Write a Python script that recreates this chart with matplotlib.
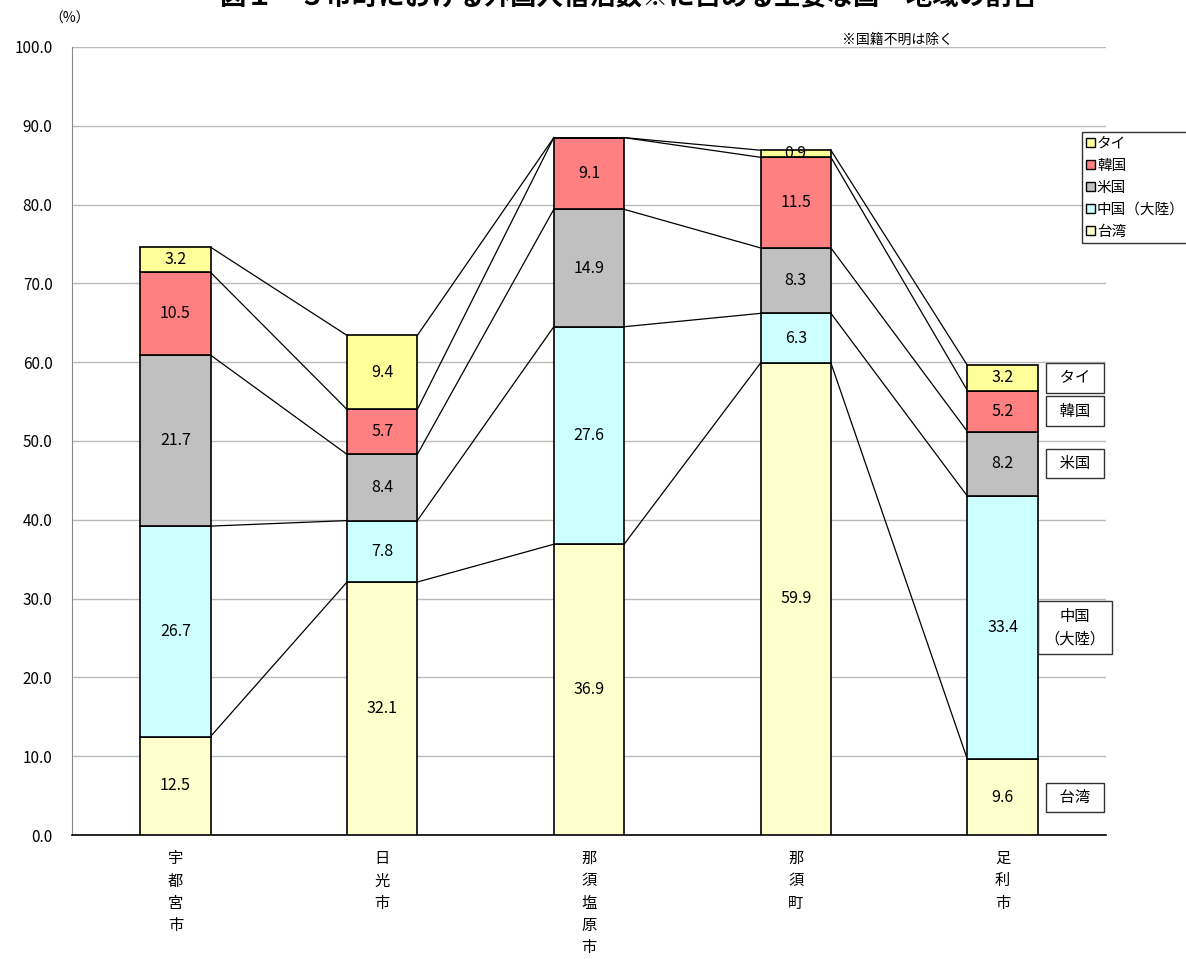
import matplotlib.pyplot as plt
import numpy as np
from matplotlib.patches import Patch

plt.rcParams['font.family'] = ['Noto Sans CJK JP', 'DejaVu Sans']

cities = ['宇都宮市', '日光市', '那須塩原市', '那須町', '足利市']
series_names = ['台湾', '中国（大陸）', '米国', '韓国', 'タイ']
taiwan = [12.5, 32.1, 36.9, 59.9, 9.6]
china = [26.7, 7.8, 27.6, 6.3, 33.4]
usa = [21.7, 8.4, 14.9, 8.3, 8.2]
korea = [10.5, 5.7, 9.1, 11.5, 5.2]
thai = [3.2, 9.4, 0.0, 0.9, 3.2]
colors = ['#FFFFCC', '#CCFFFF', '#C0C0C0', '#FF8080', '#FFFF99']
side_labels = ['\u2002台湾\u2002', '中国\n（大陸）', '\u2002米国\u2002', '\u2002韓国\u2002', '\u2002タイ\u2002']

values = np.array([taiwan, china, usa, korea, thai])
x = np.arange(len(cities))
width = 0.34

fig = plt.figure(figsize=(11.86, 9.59), dpi=100)
ax = fig.add_axes([0.0607, 0.1293, 0.8718, 0.8217])

bottom = np.zeros(len(cities))
for i in range(len(series_names)):
    ax.bar(x, values[i], width, bottom=bottom, color=colors[i],
           edgecolor='black', linewidth=1.2, zorder=3)
    for j in range(len(cities)):
        if values[i][j] > 0:
            ax.text(x[j], bottom[j] + values[i][j] / 2, f'{values[i][j]:.1f}',
                    ha='center', va='center', fontsize=11.5, zorder=4)
    bottom = bottom + values[i]
    # series lines between bars
    for j in range(len(cities) - 1):
        ax.plot([x[j] + width / 2, x[j + 1] - width / 2], [bottom[j], bottom[j + 1]],
                color='black', linewidth=0.9, zorder=2)

# boxed labels right of the last bar
cum = np.cumsum(values[:, -1])
for i in range(len(series_names)):
    mid = cum[i] - values[i][-1] / 2
    ax.text(4.35, mid, side_labels[i], ha='center', va='center', fontsize=11,
            linespacing=1.5,
            bbox=dict(boxstyle='square,pad=0.4', facecolor='white',
                      edgecolor='#333333', linewidth=1.0), zorder=5)

ax.set_xlim(-0.5, 4.5)
ax.set_ylim(0, 100)
ax.set_yticks(np.arange(0, 101, 10))
ax.set_yticklabels([f'{v:.1f}' for v in np.arange(0, 101, 10)], fontsize=11)
ax.yaxis.grid(True, color='#BBBBBB', linewidth=1.0, zorder=0)
ax.set_axisbelow(True)
ax.tick_params(axis='y', length=0, pad=14)
ax.tick_params(axis='x', length=0, pad=11)
ax.set_xticks(x)
ax.set_xticklabels(['\n'.join(c) for c in cities], fontsize=11, linespacing=1.4, va='top')
for s in ['top', 'right']:
    ax.spines[s].set_visible(False)
ax.spines['left'].set_color('#888888')
ax.spines['bottom'].set_color('black')
ax.spines['bottom'].set_linewidth(1.2)

handles = [Patch(facecolor=colors[i], edgecolor='black', label=series_names[i])
           for i in range(len(series_names) - 1, -1, -1)]
leg = fig.legend(handles=handles, loc='upper left', bbox_to_anchor=(0.912, 0.862),
                 fontsize=10.5, frameon=True, fancybox=False, handlelength=0.6,
                 handleheight=0.6, handletextpad=0.15, labelspacing=0.55,
                 borderpad=0.3, borderaxespad=0)
leg.get_frame().set_edgecolor('black')
leg.get_frame().set_linewidth(1.0)

fig.text(0.059, 0.981, '（%）', ha='center', va='center', fontsize=10)
fig.text(0.757, 0.958, '※国籍不明は除く', ha='center', va='center', fontsize=10)
fig.text(0.53, 1.002, '図１　５市町における外国人宿泊数※に占める主要な国・地域の割合',
         ha='center', va='center', fontsize=19, fontweight='bold')

fig.savefig('out.png', dpi=100)
